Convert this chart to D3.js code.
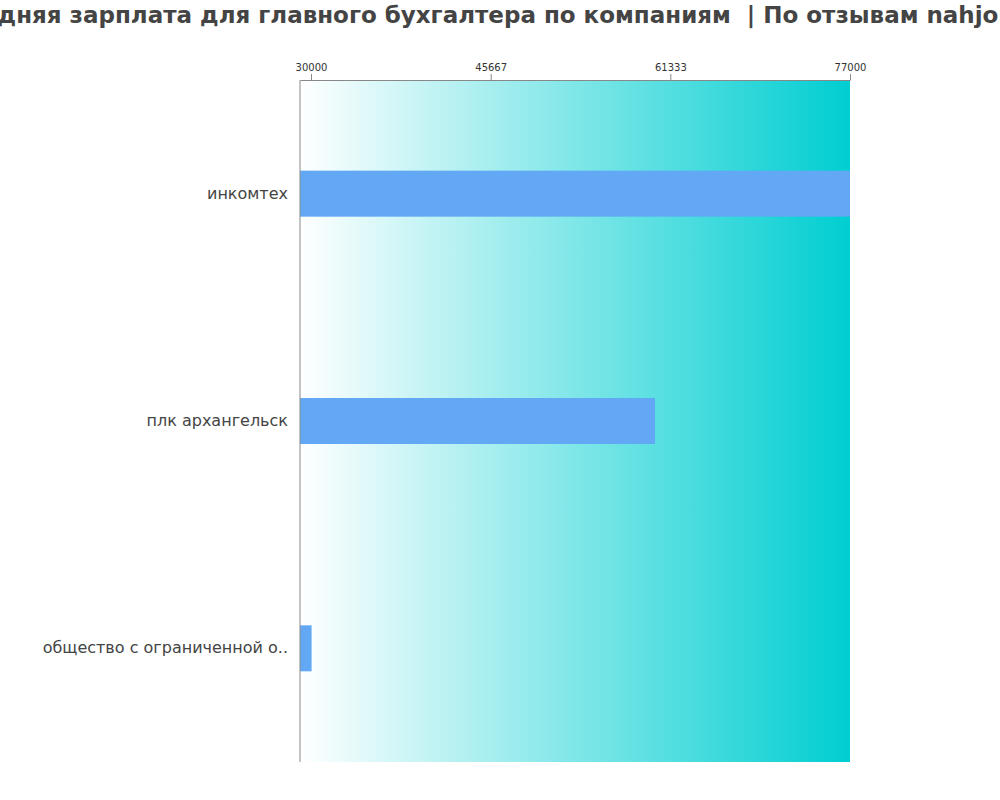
<!DOCTYPE html>
<html><head><meta charset="utf-8">
<script src="https://cdn.jsdelivr.net/npm/d3@7"></script>
<style>body{margin:0;background:#fff;font-family:"DejaVu Sans",sans-serif}</style>
</head><body>
<svg id="c" width="1000" height="800"></svg>
<script>
const categories = ["инкомтех", "плк архангельск", "общество с ограниченной о.."];
const values = [77000, 60000, 30050];
const tickValues = [30000, 45667, 61333, 77000];
const title = "Средняя зарплата для главного бухгалтера по компаниям  | По отзывам nahjob.ru";

const svg = d3.select("#c");
const m = {l:300, r:850, t:80, b:762};
const x = d3.scaleLinear().domain([29040, 77000]).range([m.l, m.r]);
const y = d3.scaleBand().domain(categories).range([m.t, m.b]);

const defs = svg.append("defs");
const g = defs.append("linearGradient").attr("id","bg").attr("x1","0%").attr("x2","100%");
g.append("stop").attr("offset","0%").attr("stop-color","#ffffff");
g.append("stop").attr("offset","100%").attr("stop-color","#00ced1");
svg.append("rect").attr("x",m.l).attr("y",m.t).attr("width",m.r-m.l).attr("height",m.b-m.t).attr("fill","url(#bg)");

svg.append("text").attr("x",500).attr("y",23).attr("text-anchor","middle")
  .attr("xml:space","preserve").style("white-space","pre")
  .attr("font-size",23).attr("font-weight","bold").attr("fill","#444").text(title);

svg.selectAll(".bar").data(categories).enter().append("rect")
  .attr("x",m.l).attr("y",d=>y(d)+y.bandwidth()/2-23)
  .attr("width",(d,i)=>x(values[i])-m.l).attr("height",46).attr("fill","#62a8f5");

const ax = svg.append("g").attr("transform",`translate(0,${m.t})`)
  .call(d3.axisTop(x).tickValues(tickValues).tickFormat(d3.format("d")).tickSizeOuter(0));
ax.selectAll("text").attr("font-size",10).attr("fill","#333").attr("font-family","DejaVu Sans");
ax.selectAll("line,path").attr("stroke","#888");

svg.append("line").attr("x1",m.l).attr("x2",m.l).attr("y1",m.t).attr("y2",m.b).attr("stroke","#888");

svg.selectAll(".lbl").data(categories).enter().append("text")
  .attr("x",288).attr("y",d=>y(d)+y.bandwidth()/2+5).attr("text-anchor","end")
  .attr("font-size",16).attr("fill","#444").text(d=>d);
</script>
</body></html>
